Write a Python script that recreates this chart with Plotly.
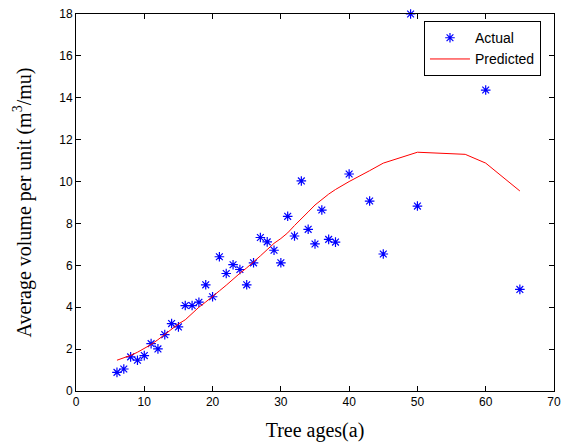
import plotly.graph_objects as go

ages_actual = [6, 7, 8, 9, 10, 11, 12, 13, 14, 15, 16, 17, 18, 19, 20, 21, 22, 23, 24, 25,
               26, 27, 28, 29, 30, 31, 32, 33, 34, 35, 36, 37, 38, 40, 43, 45, 49, 50, 57, 60, 65]
volume_actual = [0.89, 1.05, 1.63, 1.47, 1.69, 2.26, 2.01, 2.69, 3.22, 3.06, 4.08, 4.08, 4.24, 5.07,
                 4.50, 6.41, 5.61, 6.03, 5.80, 5.07, 6.12, 7.33, 7.12, 6.72, 6.12, 8.34, 7.40, 10.03,
                 7.72, 7.02, 8.64, 7.24, 7.11, 10.36, 9.07, 6.54, 18.0, 8.83, 15.55, 14.37, 4.85]

ages_pred = [6, 7, 8, 9, 10, 11, 12, 13, 14, 15, 16, 17, 18, 19, 20, 21, 22, 23, 24, 25,
             26, 27, 28, 29, 30, 31, 32, 33, 34, 35, 36, 37, 38, 40, 43, 45, 50, 57, 60, 65]
volume_pred = [1.47, 1.58, 1.70, 1.85, 2.03, 2.22, 2.45, 2.70, 2.97, 3.20, 3.40, 3.70, 4.00, 4.25,
               4.50, 4.78, 5.05, 5.35, 5.62, 5.88, 6.15, 6.45, 6.75, 7.05, 7.28, 7.55, 7.90, 8.25,
               8.55, 8.88, 9.15, 9.40, 9.62, 10.00, 10.52, 10.88, 11.40, 11.30, 10.88, 9.55]

x_ticks = [0, 10, 20, 30, 40, 50, 60, 70]
y_ticks = [0, 2, 4, 6, 8, 10, 12, 14, 16, 18]

fig = go.Figure()
fig.add_trace(go.Scatter(
    x=ages_actual, y=volume_actual, mode="markers", name="Actual",
    marker=dict(symbol="asterisk-open", size=8, color="#0000ff",
                line=dict(color="#1a1aff", width=1.2)),
    cliponaxis=False,
))
fig.add_trace(go.Scatter(
    x=ages_pred, y=volume_pred, mode="lines", name="Predicted",
    line=dict(color="#ff0000", width=1),
))

axis_common = dict(
    showgrid=False, zeroline=False, showline=True, linecolor="black", linewidth=1,
    mirror="ticks", ticks="inside", ticklen=5, tickcolor="black", tickwidth=1,
    automargin=False,
    tickfont=dict(family="Liberation Sans, Arial", size=12, color="black"),
)

fig.update_layout(
    template="none",
    width=566, height=448,
    margin=dict(l=76, r=12, t=14, b=57, pad=0),
    paper_bgcolor="white", plot_bgcolor="white",
    xaxis=dict(range=[0, 70], tickvals=x_ticks,
               title=dict(text="Tree ages(a)", standoff=14,
                          font=dict(family="Liberation Serif, Times New Roman", size=20, color="black")),
               **axis_common),
    yaxis=dict(range=[0, 18], tickvals=y_ticks,
               title=dict(text="Average volume per unit (m<sup>3</sup>/mu)", standoff=22,
                          font=dict(family="Liberation Serif, Times New Roman", size=20, color="black")),
               **axis_common),
    legend=dict(x=0.728, y=0.981, xanchor="left", yanchor="top",
                bgcolor="white", bordercolor="black", borderwidth=1,
                font=dict(family="Liberation Sans, Arial", size=14, color="black"),
                tracegroupgap=0, itemwidth=40),
    showlegend=True,
)

fig.write_html("out.html")
